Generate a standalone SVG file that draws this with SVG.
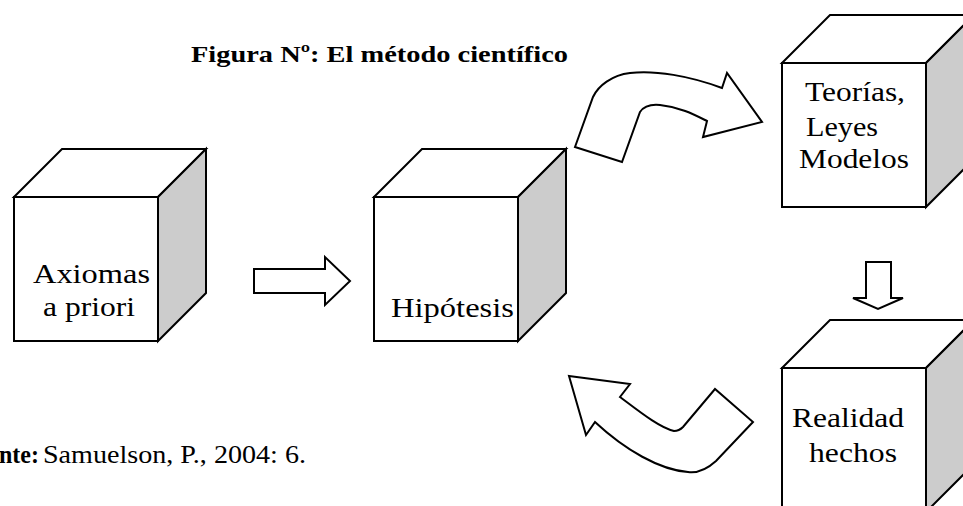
<svg xmlns="http://www.w3.org/2000/svg" width="963" height="506" viewBox="0 0 963 506">
<style>
.face{fill:#ffffff;stroke:#000;stroke-width:2;stroke-linejoin:miter}
.side{fill:#cccccc;stroke:#000;stroke-width:2}
.arr{fill:#ffffff;stroke:#000;stroke-width:2;stroke-linejoin:miter}
</style>
<rect width="963" height="506" fill="#ffffff"/>
<text font-family="Liberation Serif, Times New Roman, serif" font-size="24" font-weight="bold" x="191" y="62" textLength="377" lengthAdjust="spacingAndGlyphs">Figura Nº: El método científico</text>
<g font-family="Liberation Serif, Times New Roman, serif" font-size="28" fill="#000">
<g id="axiomas">
<polygon class="face" points="14,197 62,149 206,149 158,197"/>
<polygon class="side" points="158,197 206,149 206,293 158,341"/>
<rect class="face" x="14" y="197" width="144" height="144"/>
<text x="33" y="283" textLength="117" lengthAdjust="spacingAndGlyphs">Axiomas</text>
<text x="43" y="316" textLength="92" lengthAdjust="spacingAndGlyphs">a priori</text>
</g>
<g id="hipotesis">
<polygon class="face" points="374,197 422,149 566,149 518,197"/>
<polygon class="side" points="518,197 566,149 566,293 518,341"/>
<rect class="face" x="374" y="197" width="144" height="144"/>
<text x="391" y="317" textLength="123" lengthAdjust="spacingAndGlyphs">Hipótesis</text>
</g>
<g id="teorias">
<polygon class="face" points="782,63 830,15 974,15 926,63"/>
<polygon class="side" points="926,63 974,15 974,159 926,207"/>
<rect class="face" x="782" y="63" width="144" height="144"/>
<text x="805" y="101" textLength="100" lengthAdjust="spacingAndGlyphs">Teorías,</text>
<text x="806" y="136" textLength="72" lengthAdjust="spacingAndGlyphs">Leyes</text>
<text x="799" y="168" textLength="110" lengthAdjust="spacingAndGlyphs">Modelos</text>
</g>
<g id="realidad">
<polygon class="face" points="782,368 830,320 974,320 926,368"/>
<polygon class="side" points="926,368 974,320 974,464 926,512"/>
<rect class="face" x="782" y="368" width="144" height="144"/>
<text x="792" y="427" textLength="112" lengthAdjust="spacingAndGlyphs">Realidad</text>
<text x="809" y="462" textLength="88" lengthAdjust="spacingAndGlyphs">hechos</text>
</g>
</g>
<g id="connectors">
<path class="arr" d="M254,269 L325,269 L325,257 L350,281 L325,305 L325,293 L254,293 Z"/>
<path class="arr" d="M575,147 L622,162 L640,112 C644,106 650,104 660,105 C680,107 695,115 707,121 L703,137 L762,122 L727,73 L722,88 C690,76 655,70 630,73 C612,75 598,86 593,97 Z"/>
<path class="arr" d="M866,262 L891,262 L891,298 L903,298 L878,309 L853,298 L866,298 Z"/>
<path class="arr" d="M569,376 L630,384 L620,397 C640,412 660,428 674,431 C678,431 680,430 683,427 L715,389 L753,422 L716,461 C705,471 695,473 688,472 C660,470 625,450 595,422 L586,435 Z"/>
</g>
<text font-family="Liberation Serif, Times New Roman, serif" font-size="25" font-weight="bold" x="-1" y="463" textLength="40" lengthAdjust="spacingAndGlyphs">nte:</text>
<text font-family="Liberation Serif, Times New Roman, serif" font-size="25" x="43" y="463" textLength="263" lengthAdjust="spacingAndGlyphs">Samuelson, P., 2004: 6.</text>
</svg>
